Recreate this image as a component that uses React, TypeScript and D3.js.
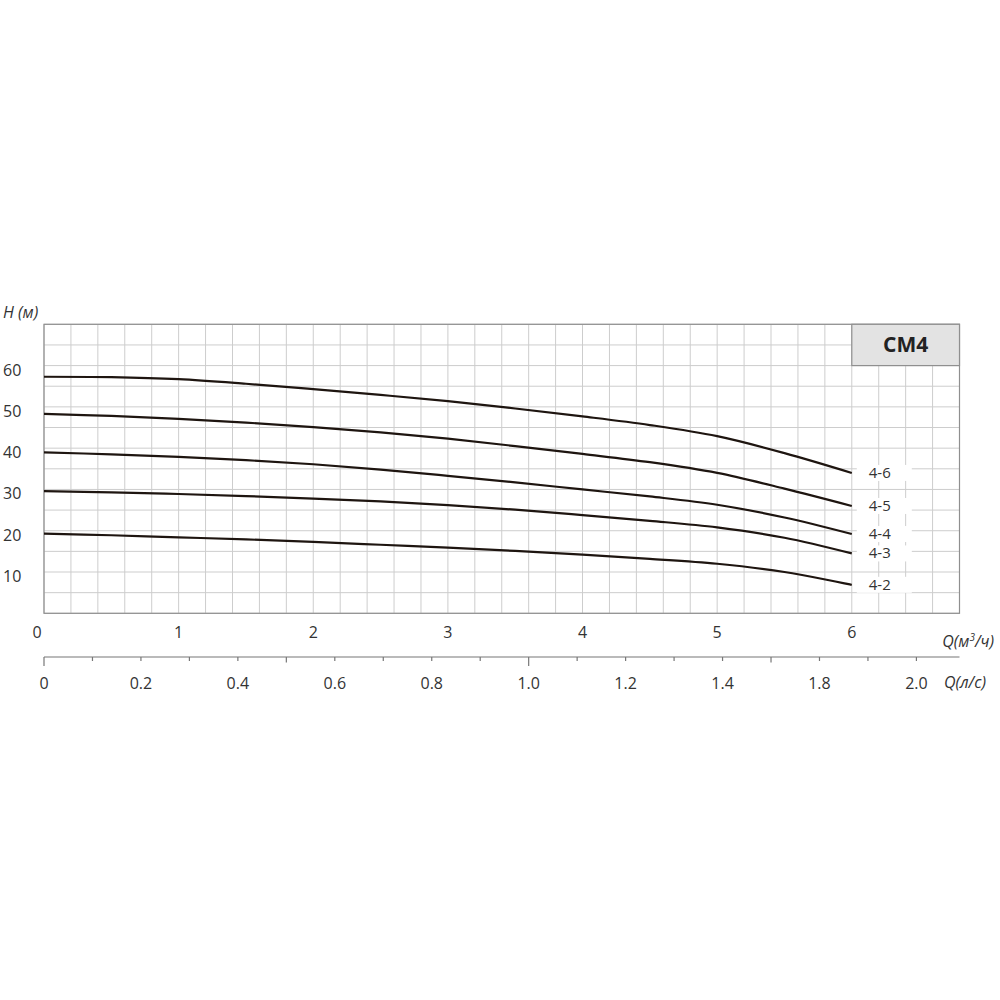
import React from "react";
import * as d3 from "d3";

const flowM3h = [0, 0.5, 1, 1.5, 2, 2.5, 3, 3.5, 4, 4.5, 5, 5.5, 6];
const head46 = [57.3, 57.2, 56.7, 55.6, 54.3, 52.9, 51.4, 49.6, 47.7, 45.6, 42.9, 38.8, 34.0];
const head45 = [48.3, 47.8, 47.1, 46.2, 45.1, 43.8, 42.3, 40.5, 38.6, 36.6, 34.0, 30.2, 26.0];
const head44 = [39.0, 38.5, 37.9, 37.1, 36.1, 34.8, 33.3, 31.7, 30.0, 28.3, 26.3, 23.2, 19.2];
const head43 = [29.6, 29.3, 28.9, 28.4, 27.8, 27.1, 26.2, 25.1, 23.8, 22.4, 20.8, 18.3, 14.5];
const head42 = [19.3, 18.9, 18.4, 17.9, 17.3, 16.6, 15.9, 15.1, 14.2, 13.2, 12.0, 10.0, 6.9];
const seriesNames = ["4-6", "4-5", "4-4", "4-3", "4-2"];
const seriesHeads = [head46, head45, head44, head43, head42];

const yTicks = [10, 20, 30, 40, 50, 60];
const xTicksM3h = [0, 1, 2, 3, 4, 5, 6];
const lsTickValues = [0, 0.2, 0.4, 0.6, 0.8, 1.0, 1.2, 1.4, 1.6, 1.8];
const lsTickLabels = ["0", "0.2", "0.4", "0.6", "0.8", "1.0", "1.2", "1.4", "1.8", "2.0"];
const title = "CM4";

const FONT = "'Open Sans', 'Noto Sans', sans-serif";
const TXT = "#333";

export default function App() {
  const left = 44, right = 959.5, top = 324.3, bottom = 613.3;
  const x = d3.scaleLinear().domain([0, 6.8]).range([left, right]);
  const y = d3.scaleLinear().domain([0, 70]).range([bottom, top]);
  const xLs = (v: number) => x(v * 3.6);

  const hGrid = d3.range(0, 70.001, 5);
  const vGrid = d3.range(0, 6.8001, 0.2);
  const lsMinor = d3.range(0, 1.8001, 0.1);

  const line = d3
    .line<[number, number]>()
    .x((d) => x(d[0]))
    .y((d) => y(d[1]))
    .curve(d3.curveCatmullRom.alpha(0.5));

  const axisY = 657;

  return (
    <svg
      width={1000}
      height={1000}
      style={{ position: "absolute", left: 0, top: 0, background: "#fff" }}
      fontFamily={FONT}
    >
      <rect x={0} y={0} width={1000} height={1000} fill="#fff" />
      {/* grid */}
      {hGrid.map((v, i) => (
        <line key={"h" + i} x1={left} x2={right} y1={y(v)} y2={y(v)} stroke="#cdcdcd" strokeWidth={1} />
      ))}
      {vGrid.map((v, i) => (
        <line key={"v" + i} x1={x(v)} x2={x(v)} y1={top} y2={bottom} stroke="#cdcdcd" strokeWidth={1} />
      ))}
      <rect x={left} y={top} width={right - left} height={bottom - top} fill="none" stroke="#8f8f8f" strokeWidth={1.2} />

      {/* title box */}
      <rect x={x(6)} y={top} width={right - x(6)} height={y(60) - top} fill="#e3e3e3" stroke="#8f8f8f" strokeWidth={1.2} />
      <text x={(x(6) + right) / 2} y={(top + y(60)) / 2 + 7} textAnchor="middle" fontSize={21} fontWeight={700} fill="#222">
        {title}
      </text>

      {/* curves */}
      {seriesHeads.map((hs, i) => (
        <path
          key={"c" + i}
          d={line(flowM3h.map((q, j) => [q, hs[j]] as [number, number])) || ""}
          fill="none"
          stroke="#1e1510"
          strokeWidth={2.2}
        />
      ))}

      {/* curve labels */}
      {seriesHeads.map((hs, i) => {
        const yy = y(hs[hs.length - 1]);
        return (
          <g key={"l" + i}>
            <rect x={x(6) + 5} y={yy - 8} width={55} height={16} fill="#fff" />
            <text x={x(6) + 17} y={yy + 5} fontSize={15} fill={TXT}>
              {seriesNames[i]}
            </text>
          </g>
        );
      })}

      {/* y labels */}
      {yTicks.map((v) => (
        <text key={"y" + v} x={3} y={y(v) + 10} fontSize={16} fill={TXT}>
          {v}
        </text>
      ))}
      <text x={3} y={318} fontSize={16} fontStyle="italic" fill={TXT}>
        H (м)
      </text>

      {/* upper x labels */}
      {xTicksM3h.map((v) => (
        <text key={"x" + v} x={x(v) - (v === 0 ? 7 : 0)} y={638} textAnchor="middle" fontSize={16} fill={TXT}>
          {v}
        </text>
      ))}
      <text x={994} y={647} textAnchor="end" fontSize={16} fontStyle="italic" fill={TXT}>
        Q(м<tspan fontSize={10} dy={-6}>3</tspan>
        <tspan dy={6}>/ч)</tspan>
      </text>

      {/* lower axis */}
      <line x1={left} x2={right} y1={axisY} y2={axisY} stroke="#777" strokeWidth={1.2} />
      {lsMinor.map((v, i) => {
        const r = Math.round(v * 10);
        const len = r % 10 === 0 ? 9 : r % 5 === 0 ? 5.5 : 4;
        return <line key={"t" + i} x1={xLs(v)} x2={xLs(v)} y1={axisY} y2={axisY + len} stroke="#777" strokeWidth={1.2} />;
      })}
      {lsTickValues.map((v, i) => (
        <text key={"ls" + i} x={xLs(v)} y={689} textAnchor="middle" fontSize={16} fill={TXT}>
          {lsTickLabels[i]}
        </text>
      ))}
      <text x={986} y={688} textAnchor="end" fontSize={16} fontStyle="italic" fill={TXT}>
        Q(л/с)
      </text>
    </svg>
  );
}
